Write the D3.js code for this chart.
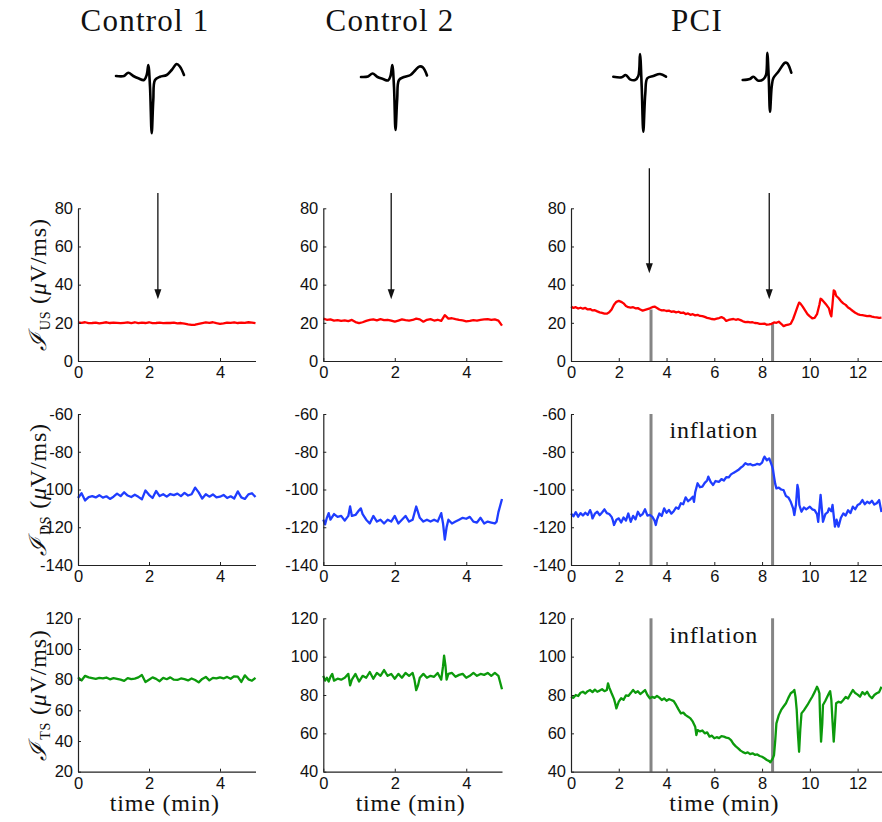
<!DOCTYPE html>
<html><head><meta charset="utf-8">
<script src="https://cdn.jsdelivr.net/npm/d3@7"></script>
<style>body{margin:0;background:#fff}</style></head>
<body>
<svg id="c" width="882" height="822"></svg>
<script>
// ---------------- DATA ----------------
const columnTitles = ["Control 1", "Control 2", "PCI"];
const rowLabels = ["US", "DS", "TS"];
const xTicksControl = [0, 2, 4];
const xTicksPCI = [0, 2, 4, 6, 8, 10, 12];
const yTicksUS = [0, 20, 40, 60, 80];
const yTicksDS = [-140, -120, -100, -80, -60];
const yTicksTS1 = [20, 40, 60, 80, 100, 120];
const yTicksTS = [40, 60, 80, 100, 120];

// uniform 0.1-min sampled control series (t = 0 .. 5)
const c1US = [20.2,20.0,20.3,19.8,19.9,20.1,19.7,20.0,20.3,19.9,20.1,20.0,19.8,20.0,20.2,19.9,20.3,19.8,20.1,19.9,20.3,19.8,19.9,20.1,19.8,20.0,19.9,20.1,19.7,19.9,19.6,19.2,18.9,19.0,19.5,19.9,20.2,20.0,20.3,19.8,19.5,19.7,20.1,20.0,20.2,19.9,20.1,20.0,20.3,20.1,19.8];
const c1DS = [-104.5,-102,-105.8,-104,-103.5,-104.2,-103,-104.3,-103.6,-105,-103.8,-102.2,-103.5,-101.5,-103.2,-104,-102.8,-103.9,-105.2,-100.5,-102.8,-104.5,-100.8,-103.5,-102.5,-103.8,-102.4,-103,-102.2,-103.5,-101.8,-103.2,-102.5,-99,-101.5,-104.8,-102.5,-103.8,-102.6,-104.2,-103.8,-102.9,-104.5,-103.6,-104.8,-101,-104.2,-105,-102.6,-102,-104];
const c1TS = [81.5,79.5,82.5,81.5,81,80.5,81.2,80.8,81.4,80.2,81,80.5,80,79.2,81,80.3,80.7,81.5,83,78.5,80,81.5,80.5,79,81.2,80.3,81.5,80,79.8,80.8,80.3,79.5,80.8,79.8,78.2,80.5,81.8,79.5,81.2,80.8,81.5,80.8,81.8,80.6,82.2,82,78.5,82.8,80.2,79.3,81.2];
const c2US = [22.2,21.6,21.8,21.2,21.4,21.0,21.3,20.9,21.5,20.4,19.8,20.3,21.0,21.5,21.8,21.3,21.9,21.4,21.6,21.2,20.6,21.2,21.8,21.4,21.2,21.5,22.2,21.8,20.6,21.6,21.9,21.2,21.6,21.0,24.0,22.2,22.4,21.9,21.5,21.3,20.8,21.0,21.4,21.2,21.6,21.8,21.9,21.5,21.8,21.2,18.5];

// irregularly sampled series: [time (min), value]
const c2DS = [[0,-116],[0.05,-118.5],[0.1,-115],[0.15,-112.5],[0.2,-116],[0.3,-113],[0.4,-114.5],[0.5,-114],[0.6,-116.5],[0.7,-114],[0.75,-109],[0.8,-114],[0.9,-113.5],[1.0,-111],[1.05,-110],[1.1,-113],[1.2,-116],[1.3,-118],[1.4,-114],[1.5,-117],[1.6,-116],[1.7,-118],[1.8,-116],[1.9,-117],[2.0,-114],[2.1,-118],[2.2,-116],[2.3,-114],[2.4,-117],[2.5,-116],[2.6,-109],[2.7,-115],[2.8,-117],[2.9,-116],[3.0,-117],[3.1,-116],[3.2,-117],[3.3,-112.5],[3.35,-118],[3.4,-126.5],[3.45,-120],[3.5,-116],[3.6,-118],[3.7,-117],[3.8,-116],[3.9,-115],[4.0,-115.5],[4.1,-114.5],[4.2,-117],[4.3,-117.5],[4.4,-115],[4.5,-118],[4.6,-117],[4.7,-117.5],[4.8,-118],[4.85,-117],[4.9,-112],[5.0,-105]];
const c2TS = [[0,90],[0.05,87.5],[0.1,89],[0.15,87],[0.2,89.5],[0.25,91],[0.3,87.5],[0.4,88.5],[0.5,88],[0.6,89],[0.7,91],[0.75,85],[0.8,88],[0.9,91],[1.0,87],[1.1,90],[1.2,89],[1.3,92],[1.4,88.5],[1.5,91.5],[1.6,90],[1.7,93],[1.8,90],[1.9,91],[2.0,88.5],[2.1,91],[2.2,89],[2.3,91.5],[2.4,90],[2.5,91.5],[2.55,88],[2.6,82.5],[2.65,85],[2.7,89],[2.8,91],[2.9,89],[3.0,90],[3.1,89.5],[3.2,91.5],[3.3,88],[3.35,95],[3.38,100.5],[3.42,95],[3.45,88],[3.5,91],[3.6,91.5],[3.7,89.5],[3.8,90.5],[3.9,91],[4.0,89],[4.1,90],[4.2,91.5],[4.3,90],[4.4,91],[4.5,90.5],[4.6,91.5],[4.7,90],[4.8,91.5],[4.9,90],[5.0,83]];

const pciUS = [[0,28.5],[0.1,27.8],[0.2,28.2],[0.3,27.5],[0.4,27.9],[0.5,27.4],[0.6,27.8],[0.7,27.0],[0.8,27.2],[0.9,26.5],[1.0,26.6],[1.1,26.0],[1.2,25.5],[1.3,25.2],[1.4,24.8],[1.5,24.8],[1.6,25.5],[1.7,27.0],[1.8,29.5],[1.9,31.0],[2.0,31.5],[2.1,31.0],[2.2,30.2],[2.3,28.8],[2.4,28.2],[2.5,28.0],[2.6,28.2],[2.7,27.6],[2.8,27.7],[2.9,27.0],[3.0,26.4],[3.1,26.8],[3.2,27.2],[3.3,27.6],[3.4,28.2],[3.5,28.5],[3.6,27.8],[3.7,27.0],[3.8,26.5],[3.9,26.6],[4.0,26.2],[4.1,26.4],[4.2,25.8],[4.3,26.0],[4.4,25.5],[4.5,25.8],[4.6,25.2],[4.7,25.4],[4.8,24.6],[4.9,24.9],[5.0,24.2],[5.1,24.5],[5.2,23.9],[5.3,24.2],[5.4,23.6],[5.5,23.5],[5.6,23.1],[5.7,22.6],[5.8,22.3],[5.9,22.0],[6.0,21.8],[6.1,22.2],[6.2,22.5],[6.3,23.0],[6.4,22.4],[6.5,21.0],[6.6,21.5],[6.7,21.8],[6.8,22.0],[6.9,21.6],[7.0,21.9],[7.1,21.4],[7.2,20.8],[7.3,20.4],[7.4,20.5],[7.5,20.2],[7.6,20.3],[7.7,19.9],[7.8,19.8],[7.9,19.5],[8.0,19.4],[8.1,19.6],[8.2,19.0],[8.3,19.2],[8.4,19.5],[8.5,20.2],[8.6,20.0],[8.7,20.6],[8.8,19.5],[8.9,18.3],[9.0,18.8],[9.1,19.0],[9.2,19.5],[9.3,22.0],[9.4,25.5],[9.5,29.0],[9.55,30.6],[9.6,30.2],[9.7,28.5],[9.8,26.5],[9.9,24.6],[10.0,23.4],[10.1,22.4],[10.2,22.6],[10.3,24.5],[10.4,29.5],[10.45,32.6],[10.5,32.2],[10.6,30.8],[10.7,29.3],[10.8,27.6],[10.85,25.0],[10.9,23.4],[10.95,30.0],[11.0,37.0],[11.05,36.5],[11.1,34.2],[11.2,33.0],[11.3,31.4],[11.4,30.2],[11.5,29.4],[11.6,28.0],[11.7,27.2],[11.8,26.2],[11.9,25.3],[12.0,24.6],[12.1,24.2],[12.2,24.0],[12.3,23.8],[12.4,23.5],[12.5,23.6],[12.6,23.2],[12.7,23.0],[12.8,22.9],[12.9,22.6],[13.0,22.7]];
const pciDS = [[0,-112.7],[0.1,-114.2],[0.2,-112.0],[0.3,-114.4],[0.4,-112.5],[0.5,-113.8],[0.6,-112.3],[0.7,-113.5],[0.8,-110.9],[0.85,-112.5],[0.9,-115.3],[1.0,-112.8],[1.1,-111.8],[1.2,-113.6],[1.3,-112.2],[1.4,-110.5],[1.5,-112.5],[1.6,-113.0],[1.7,-114.5],[1.75,-116.2],[1.8,-118.8],[1.9,-116.0],[2.0,-115.3],[2.1,-117.5],[2.2,-114.8],[2.3,-116.5],[2.4,-112.7],[2.5,-117.1],[2.6,-114.0],[2.7,-115.8],[2.8,-111.8],[2.9,-114.0],[3.0,-113.0],[3.1,-110.5],[3.2,-113.8],[3.3,-113.5],[3.4,-114.4],[3.5,-116.5],[3.55,-118.8],[3.6,-116.0],[3.7,-112.7],[3.8,-114.0],[3.9,-110.0],[4.0,-112.3],[4.1,-110.8],[4.2,-112.8],[4.3,-111.5],[4.4,-109.5],[4.5,-110.2],[4.6,-107.3],[4.7,-107.8],[4.8,-104.2],[4.9,-106.2],[5.0,-105.2],[5.1,-103.8],[5.15,-106.5],[5.2,-101.5],[5.3,-96.7],[5.4,-98.8],[5.5,-98.5],[5.6,-96.5],[5.7,-95.2],[5.75,-93.2],[5.85,-96.0],[5.95,-97.6],[6.05,-95.5],[6.2,-95.9],[6.3,-94.5],[6.4,-95.2],[6.5,-93.5],[6.6,-93.6],[6.7,-92.0],[6.8,-91.2],[6.9,-90.5],[7.0,-89.7],[7.1,-88.5],[7.2,-87.6],[7.3,-86.1],[7.4,-86.8],[7.5,-86.5],[7.6,-87.2],[7.7,-87.0],[7.8,-86.4],[7.9,-86.8],[8.0,-85.8],[8.05,-84.0],[8.1,-82.6],[8.2,-84.5],[8.3,-83.5],[8.4,-87.0],[8.45,-89.0],[8.5,-93.2],[8.55,-97.0],[8.6,-99.4],[8.7,-99.0],[8.8,-100.0],[8.9,-100.3],[9.0,-103.5],[9.1,-104.2],[9.2,-106.5],[9.3,-110.0],[9.35,-113.5],[9.42,-108.0],[9.48,-97.6],[9.52,-100.0],[9.56,-108.2],[9.65,-111.8],[9.75,-109.5],[9.85,-110.5],[10.0,-109.1],[10.1,-110.5],[10.2,-110.9],[10.3,-113.0],[10.35,-117.1],[10.4,-110.0],[10.45,-102.9],[10.5,-110.0],[10.55,-117.1],[10.65,-113.0],[10.75,-112.0],[10.8,-110.0],[10.9,-111.5],[10.95,-108.2],[11.0,-114.0],[11.05,-119.7],[11.12,-116.0],[11.2,-119.7],[11.3,-115.0],[11.4,-112.7],[11.5,-113.8],[11.6,-111.0],[11.7,-112.5],[11.8,-109.1],[11.9,-110.5],[12.0,-108.2],[12.1,-107.5],[12.2,-105.6],[12.3,-107.8],[12.4,-106.5],[12.5,-107.3],[12.6,-106.0],[12.7,-108.0],[12.8,-107.3],[12.9,-105.6],[13.0,-112.0]];
const pciTS = [[0,79.1],[0.1,78.5],[0.2,80.0],[0.3,79.5],[0.4,81.2],[0.5,81.7],[0.6,80.8],[0.7,82.0],[0.8,82.6],[0.9,81.5],[1.0,82.8],[1.1,81.7],[1.2,82.3],[1.3,83.0],[1.4,82.0],[1.5,82.6],[1.55,86.1],[1.6,84.0],[1.7,80.9],[1.8,78.0],[1.85,75.7],[1.9,73.0],[2.0,76.5],[2.1,78.3],[2.2,77.5],[2.3,79.8],[2.4,79.5],[2.5,81.0],[2.6,82.6],[2.7,81.2],[2.8,82.0],[2.9,80.5],[3.0,81.5],[3.1,82.6],[3.2,80.0],[3.3,78.3],[3.4,79.0],[3.5,78.5],[3.6,79.5],[3.7,78.6],[3.8,77.4],[3.9,78.2],[4.0,77.0],[4.1,77.8],[4.2,77.4],[4.3,76.8],[4.4,74.8],[4.5,72.5],[4.6,70.4],[4.7,70.8],[4.8,69.5],[4.9,68.7],[5.0,67.8],[5.1,66.1],[5.2,63.5],[5.25,59.1],[5.3,61.7],[5.4,61.0],[5.5,61.5],[5.6,60.0],[5.7,60.5],[5.8,58.3],[5.9,58.8],[6.0,57.4],[6.1,58.0],[6.2,57.5],[6.3,58.5],[6.4,58.3],[6.5,57.8],[6.6,57.5],[6.7,56.5],[6.8,54.5],[6.9,53.2],[7.0,52.2],[7.1,51.0],[7.2,50.2],[7.3,49.6],[7.4,50.1],[7.5,49.2],[7.6,49.6],[7.7,48.8],[7.8,49.0],[7.9,48.2],[8.0,47.8],[8.1,47.0],[8.2,46.1],[8.3,45.5],[8.35,44.9],[8.4,46.0],[8.45,47.0],[8.5,48.7],[8.55,56.0],[8.6,65.2],[8.7,69.5],[8.8,72.2],[8.9,74.0],[9.0,75.7],[9.1,78.5],[9.2,80.9],[9.3,81.8],[9.35,82.6],[9.4,79.0],[9.45,72.2],[9.5,60.0],[9.55,50.4],[9.6,62.0],[9.65,70.4],[9.75,72.0],[9.9,74.8],[10.0,77.0],[10.1,79.1],[10.2,81.5],[10.3,84.3],[10.35,83.0],[10.4,80.9],[10.43,68.0],[10.47,55.7],[10.52,65.0],[10.55,74.8],[10.65,77.0],[10.8,80.9],[10.85,82.0],[10.9,77.4],[10.95,66.0],[11.0,55.7],[11.05,65.0],[11.1,75.7],[11.2,76.5],[11.3,76.0],[11.4,77.4],[11.5,79.0],[11.6,78.2],[11.7,80.5],[11.8,82.6],[11.9,81.0],[12.0,80.2],[12.1,79.1],[12.2,81.5],[12.3,80.3],[12.4,81.7],[12.5,79.5],[12.6,78.3],[12.7,80.0],[12.8,80.9],[12.9,81.5],[13.0,84.3]];

// beat markers (time of arrow, arrow tip value in US units, arrow top value)
const arrowTimes = [[2.25], [1.9], [3.28, 8.3]];
const arrowTips = [[32.4], [32.4], [46, 32.4]];
const arrowTops = [[88], [88], [101, 88]];
// balloon inflation start/end (min)
const inflation = [3.35, 8.44];
const inflationUSTop = [27.0, 20.0];

// ECG beat templates: [time sample, amplitude]
const ecgControl1 = [[0,0],[8,0],[12.3,3.3],[17.3,0],[22.3,-2.3],[28,-4],[30.7,1],[32.3,11],[34,-10.7],[35.7,-57.3],[37.3,-24],[39,-4],[44,-0.7],[50.7,1],[55.7,6],[60.7,12],[64,9.3],[68,1]];
const ecgControl2 = [[0,0],[7,0.5],[11.5,3.5],[16.5,0],[22,-2],[27,-3.5],[29.5,1],[31.3,12],[33,-10],[34.5,-53],[36.2,-22],[38,-3],[43,0],[49.5,2],[54.5,7],[58.5,10.5],[62,9.5],[66,1.5]];
const ecgPCI1 = [[0,0.3],[8.4,-0.3],[12.4,2],[16.7,-2.3],[21.7,-3],[25,1],[26.7,23],[28.4,-9.7],[30,-54.7],[32,-16.3],[34,-1.3],[40,1],[46.7,3],[52.7,0.3]];
const ecgPCI2 = [[0,0],[7.3,1],[10.6,3.3],[15.6,-0.7],[20.6,0.7],[23.3,5],[24.6,27.3],[26,3.3],[27.3,-31.7],[29,-6.7],[30.6,1.7],[35.6,8.3],[42.3,17.3],[44.6,16.7],[48.6,7.3]];

// ---------------- LAYOUT / STYLE ----------------
const colors = {US: "#ff0000", DS: "#1f3dff", TS: "#0c9a0c"};
const cols = [
  {x0: 78, x1: 255.5, dom: [0, 5], ticks: xTicksControl, titleX: 145},
  {x0: 323.3, x1: 502, dom: [0, 5], ticks: xTicksControl, titleX: 390},
  {x0: 571, x1: 881.5, dom: [0, 13], ticks: xTicksPCI, titleX: 697}
];
const rows = [
  {top: 208.3, bottom: 361},
  {top: 414, bottom: 565},
  {top: 618.3, bottom: 771.7}
];
const yDomains = [
  [[0,80],[0,80],[0,80]],
  [[-140,-60],[-140,-60],[-140,-60]],
  [[20,120],[40,120],[40,120]]
];
const yTickSets = [
  [yTicksUS, yTicksUS, yTicksUS],
  [yTicksDS, yTicksDS, yTicksDS],
  [yTicksTS1, yTicksTS, yTicksTS]
];
const toPairs = arr => arr.map((v, i) => [i * 0.1, v]);
const series = [
  [toPairs(c1US), toPairs(c2US), pciUS],
  [toPairs(c1DS), c2DS, pciDS],
  [toPairs(c1TS), c2TS, pciTS]
];

const svg = d3.select("#c");
const serif = "'Liberation Serif', 'DejaVu Serif', serif";
const sans = "'Liberation Sans', Arial, sans-serif";

// titles
columnTitles.forEach((t, i) => {
  svg.append("text").attr("x", cols[i].titleX).attr("y", 31)
    .attr("text-anchor", "middle").attr("font-family", serif)
    .attr("font-size", 31).attr("letter-spacing", 1.2).attr("fill", "#111").text(t);
});

// ECG glyphs
function drawECG(data, ox, oy) {
  const xs = d3.scaleLinear().domain([0, 1]).range([ox, ox + 1]);
  const ys = d3.scaleLinear().domain([0, 1]).range([oy, oy - 1]);
  svg.append("path").datum(data)
    .attr("d", d3.line().x(d => xs(d[0])).y(d => ys(d[1])).curve(d3.curveCatmullRom.alpha(0.5)))
    .attr("fill", "none").attr("stroke", "#000").attr("stroke-width", 2.6)
    .attr("stroke-linejoin", "round").attr("stroke-linecap", "round");
}
drawECG(ecgControl1, 116, 76);
drawECG(ecgControl2, 361, 77);
drawECG(ecgPCI1, 613.3, 77);
drawECG(ecgPCI2, 742.7, 80);

const tickFmt = d => String(d);

rows.forEach((r, ri) => {
  cols.forEach((c, ci) => {
    const x = d3.scaleLinear().domain(c.dom).range([c.x0, c.x1]);
    const y = d3.scaleLinear().domain(yDomains[ri][ci]).range([r.bottom, r.top]);
    const g = svg.append("g");

    // gray inflation markers (PCI only)
    if (ci === 2) {
      inflation.forEach((t, k) => {
        const yTop = ri === 0 ? y(inflationUSTop[k]) : r.top;
        g.append("line").attr("x1", x(t)).attr("x2", x(t))
          .attr("y1", yTop).attr("y2", r.bottom)
          .attr("stroke", "#858585").attr("stroke-width", 3);
      });
    }

    // data line
    g.append("path").datum(series[ri][ci])
      .attr("d", d3.line().x(d => x(d[0])).y(d => y(d[1])))
      .attr("fill", "none").attr("stroke", colors[rowLabels[ri]])
      .attr("stroke-width", 2.3).attr("stroke-linejoin", "round");

    // axes
    const ax = g.append("g").attr("transform", `translate(0,${r.bottom})`)
      .call(d3.axisBottom(x).tickValues(c.ticks).tickFormat(tickFmt).tickSizeInner(-3).tickSizeOuter(0).tickPadding(4));
    const ay = g.append("g").attr("transform", `translate(${c.x0},0)`)
      .call(d3.axisLeft(y).tickValues(yTickSets[ri][ci]).tickFormat(tickFmt).tickSizeInner(-3).tickSizeOuter(0).tickPadding(5));
    [ax, ay].forEach(a => {
      a.select(".domain").attr("stroke", "#222").attr("stroke-width", 1.2);
      a.selectAll(".tick line").attr("stroke", "#222");
      a.selectAll(".tick text").attr("font-family", sans).attr("font-size", 16.5).attr("fill", "#111");
    });
    ax.selectAll(".tick text").attr("dy", "0.78em");

    // arrows (top row)
    if (ri === 0) {
      arrowTimes[ci].forEach((t, k) => {
        const ax0 = x(t), tip = y(arrowTips[ci][k]), top = y(arrowTops[ci][k]);
        g.append("line").attr("x1", ax0).attr("x2", ax0).attr("y1", top).attr("y2", tip - 6)
          .attr("stroke", "#111").attr("stroke-width", 1.3);
        g.append("path").attr("d", `M${ax0 - 3.5},${tip - 10}L${ax0 + 3.5},${tip - 10}L${ax0},${tip}Z`)
          .attr("fill", "#111");
      });
    }

    // inflation label
    if (ci === 2 && ri > 0) {
      g.append("text").attr("x", x((inflation[0] + inflation[1]) / 2) + 2)
        .attr("y", r.top + (ri === 1 ? 24 : 25)).attr("text-anchor", "middle")
        .attr("font-family", serif).attr("font-size", 24).attr("letter-spacing", 0.8)
        .attr("fill", "#111").text("inflation");
    }

    // y label (first column)
    if (ci === 0) {
      const cy = (r.top + r.bottom) / 2;
      const t = svg.append("text").attr("transform", `translate(46,${cy}) rotate(-90)`)
        .attr("text-anchor", "middle").attr("font-family", serif).attr("font-size", 24)
        .attr("letter-spacing", 0.8).attr("fill", "#111");
      t.append("tspan").attr("font-family", "'DejaVu Serif', serif").attr("font-style", "italic").text("ℐ");
      t.append("tspan").attr("font-size", 14).attr("dx", 2).attr("dy", 4).text(rowLabels[ri]);
      t.append("tspan").attr("dy", -4).text(" (");
      t.append("tspan").attr("font-style", "italic").text("μ");
      t.append("tspan").text("V/ms)");
    }

    // x label (bottom row)
    if (ri === 2) {
      svg.append("text").attr("x", (c.x0 + c.x1) / 2 - 2).attr("y", 811)
        .attr("text-anchor", "middle").attr("font-family", serif).attr("font-size", 24)
        .attr("letter-spacing", 0.8).attr("fill", "#111").text("time (min)");
    }
  });
});
</script>
</body></html>
